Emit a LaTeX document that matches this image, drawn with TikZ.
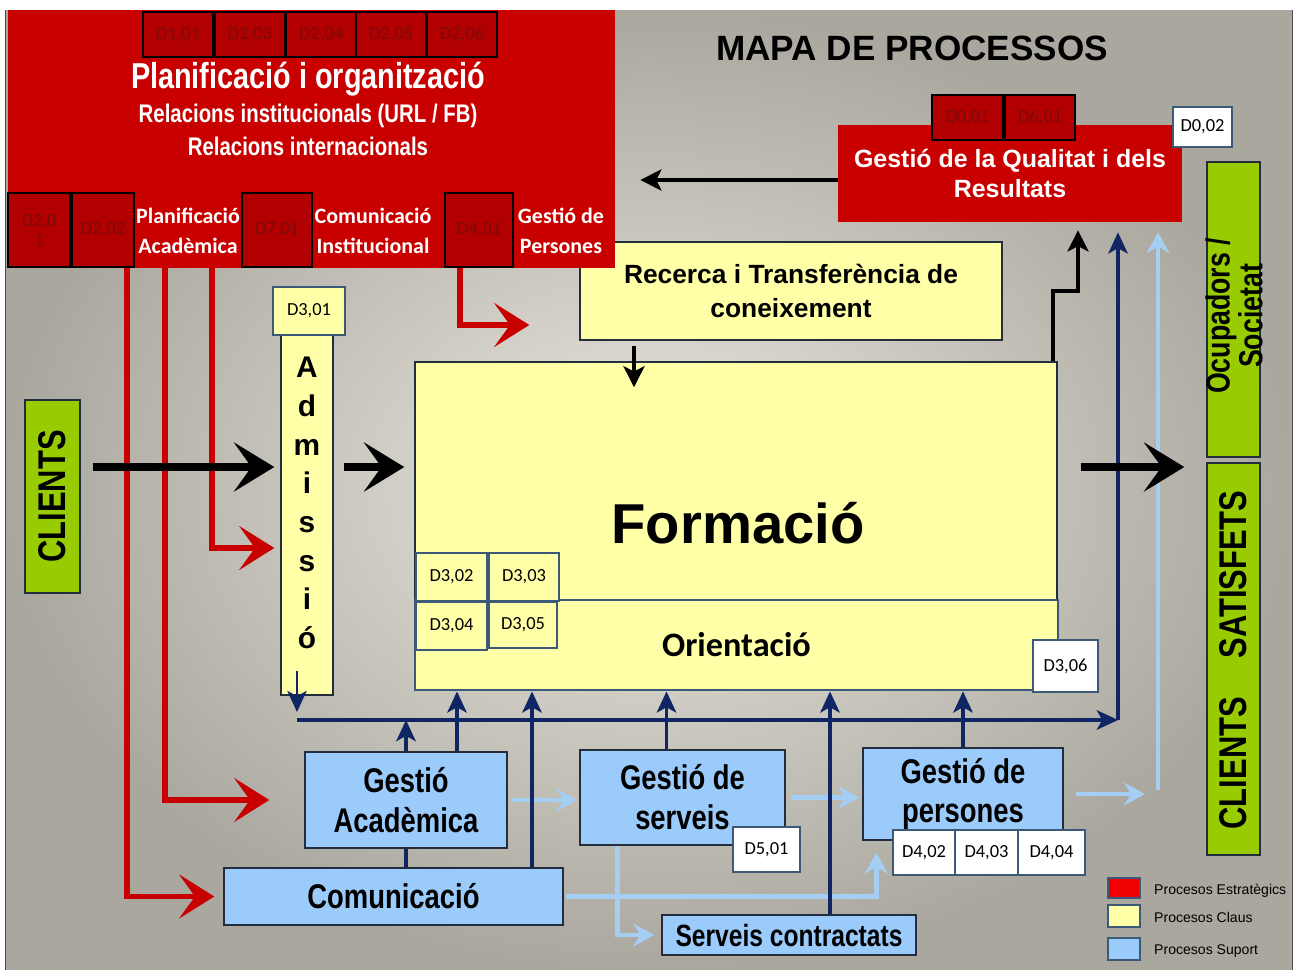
\documentclass[tikz,border=0pt]{standalone}
\usepackage{fontspec}
\setmainfont{Liberation Sans}
\newfontfamily\nrw[FakeStretch=0.8]{Liberation Sans}
\newfontfamily\carl{Carlito}
\usetikzlibrary{arrows.meta,calc}

\definecolor{procred}{RGB}{200,0,0}
\definecolor{coded}{RGB}{178,0,0}
\definecolor{codetxt}{RGB}{125,10,10}
\definecolor{procyel}{RGB}{255,255,168}
\definecolor{procblue}{RGB}{155,203,250}
\definecolor{procgreen}{RGB}{153,204,0}
\definecolor{legred}{RGB}{240,0,0}
\definecolor{navy}{RGB}{16,38,100}
\definecolor{skyline}{RGB}{165,206,245}
\definecolor{codeline}{RGB}{60,90,120}
\definecolor{boxline}{RGB}{35,45,60}
\definecolor{bglight}{RGB}{234,232,224}
\definecolor{bgdark}{RGB}{170,167,158}

\tikzset{
    bw/.style={minimum width=#1*0.02cm},
    bh/.style={minimum height=#1*0.02cm},
    redbox/.style={fill=procred, inner sep=0pt},
    dred/.style={draw=black, line width=1.6pt, fill=coded, text=codetxt,
        inner sep=0pt, align=center, font=\carl\fontsize{10.5}{11}\selectfont},
    redlab/.style={text=white, align=center, font=\carl\bfseries\fontsize{12.5}{17}\selectfont},
    yelbox/.style={draw=boxline, line width=0.8pt, fill=procyel, inner sep=0pt},
    bluebox/.style={draw=boxline, line width=0.8pt, fill=procblue, inner sep=0pt,
        align=center, font=\nrw\bfseries\fontsize{19.5}{22.7}\selectfont},
    dcode/.style={draw=codeline, line width=1.6pt, fill=procyel, inner sep=0pt,
        font=\carl\fontsize{10.5}{11}\selectfont},
    dwhite/.style={dcode, fill=white},
    greenbox/.style={draw=boxline, line width=0.8pt, fill=procgreen, inner sep=0pt},
    greentxt/.style={rotate=90, font=\nrw\bfseries\fontsize{22}{24}\selectfont},
    legbox/.style={draw=codeline, line width=1.4pt, inner sep=0pt},
    legtxt/.style={anchor=west, font=\fontsize{8}{10}\selectfont},
    redarrow/.style={draw=procred, line width=3.4pt,
        -{Stealth[length=20pt, width=25pt, inset=9pt]}},
    bigarrow/.style={draw=black, line width=4.5pt,
        -{Stealth[length=23pt, width=28pt, inset=10pt]}},
    blkarrow/.style={draw=black, line width=2.2pt,
        -{Stealth[length=12pt, width=12pt, inset=3pt]}},
    navyline/.style={draw=navy, line width=2.2pt},
    navyarrow/.style={navyline, -{Stealth[length=12pt, width=11pt, inset=3pt]}},
    skyarrow/.style={draw=skyline, line width=2.6pt,
        -{Stealth[length=12pt, width=13pt, inset=4pt]}},
}

\begin{document}
\begin{tikzpicture}
    [
        x=0.02cm, y=-0.02cm,
    ]
    \useasboundingbox (0,0) rectangle (1298,970);

    % background
    \fill [white] (0,0) rectangle (1298,10);
    \shade [inner color=bglight, outer color=bgdark] (5,10) rectangle (1292,970);
    \draw [gray!60!black, line width=0.4pt] (5,10) -- (5,970) (1292,10) -- (1292,970);

    % key processes
    \node [yelbox, bw=422, bh=98, align=center,
        font=\bfseries\fontsize{15}{19}\selectfont] (recerca) at (791,291)
        {Recerca i Transferència de\\coneixement};
    \node [yelbox, bw=642, bh=238] (form) at (736,481) {};
    \node [font=\bfseries\fontsize{32}{36}\selectfont] (formtxt) at (738,523) {Formació};
    \node [yelbox, draw=codeline, line width=1.6pt, bw=643, bh=90,
        font=\carl\bfseries\fontsize{19.5}{22}\selectfont] (orient) at (736.5,645) {Orientació};
    \node [dcode, bw=71, bh=48] (d302) at (451.5,577) {D3,02};
    \node [dcode, bw=70, bh=48] (d303) at (524,577) {D3,03};
    \node [dcode, bw=71, bh=48] (d304) at (451.5,626) {D3,04};
    \node [dcode, bw=68, bh=46] (d305) at (523,625) {D3,05};
    \node [dwhite, bw=65, bh=52] (d306) at (1065.5,666) {D3,06};

    \node [yelbox, bw=52, bh=360] (adm) at (307,515) {};
    \node [dcode, bw=72, bh=48] (d301) at (309,311) {D3,01};
    \node [align=center, font=\bfseries\fontsize{17}{22}\selectfont] (admtxt) at (307,503)
        {A\\d\\m\\i\\s\\s\\i\\ó};

    % strategic processes
    \node [redbox, bw=607, bh=258] (plan) at (311.5,139) {};
    \foreach \x/\lab [count=\i] in
    {178/{D1,01}, 250/{D2,03}, 321/{D2,04}, 391/{D2,05}, 462/{D2,06}}
    {
        \node [dred, bw=70, bh=45] (pd\i) at (\x,34.5) {\lab};
    }
    \node [text=white, font=\nrw\bfseries\fontsize{20.5}{22}\selectfont] (plantit) at (308,79) {Planificació i organització};
    \node [text=white, font=\nrw\bfseries\fontsize{14.5}{16}\selectfont] (relinst) at (308,116) {Relacions institucionals (URL / FB)};
    \node [text=white, font=\nrw\bfseries\fontsize{14.5}{16}\selectfont] (relint) at (308,146) {Relacions internacionals};

    \node [dred, bw=62, bh=74] (d201) at (39,230) {D2,0\\1};
    \node [dred, bw=62, bh=74] (d202) at (103,230) {D2,02};
    \node [dred, bw=70, bh=74] (d701) at (277,230) {D7,01};
    \node [dred, bw=68, bh=74] (d401) at (479,230) {D4,01};
    \node [redlab] (placad) at (188,231) {Planificació\\Acadèmica};
    \node [redlab] (cominst) at (373,231) {Comunicació\\Institucional};
    \node [redlab] (gespers) at (561,231) {Gestió de\\Persones};

    \node [font=\bfseries\fontsize{20}{22}\selectfont] (mapa) at (912,48) {MAPA DE PROCESSOS};

    \node [redbox, bw=344, bh=97, text=white, align=center,
        font=\bfseries\fontsize{14.2}{17}\selectfont] (qual) at (1010,173.5)
        {Gestió de la Qualitat i dels\\Resultats};
    \node [dred, bw=71, bh=45] (d001) at (967.5,117.5) {D0,01};
    \node [dred, bw=70, bh=45] (d601) at (1040,117.5) {D6,01};
    \node [dwhite, bw=59, bh=40] (d002) at (1202.5,127) {D0,02};

    % clients
    \node [greenbox, bw=55, bh=193] (clients) at (52.5,496.5) {};
    \node [greentxt] (clitxt) at (clients) {CLIENTS};
    \node [greenbox, bw=53, bh=295] (ocup) at (1233.5,309.5) {};
    \node [greentxt, align=center, font=\nrw\bfseries\fontsize{19}{16}\selectfont] (ocuptxt) at (1234,316) {Ocupadors /\\Societat};
    \node [greenbox, bw=53, bh=392] (sat) at (1233.5,659) {};
    \node [greentxt] (sattxt) at (1233.5,660) {CLIENTS\hspace{22pt}SATISFETS};

    % support processes
    \node [bluebox, bw=202, bh=96] (ga) at (406,800) {Gestió\\Acadèmica};
    \node [bluebox, bw=339, bh=57] (comm) at (393.5,896.5) {Comunicació};
    \node [bluebox, bw=205, bh=95] (serv) at (682.5,797.5) {Gestió de\\serveis};
    \node [dwhite, bw=67, bh=45] (d501) at (766.5,849.5) {D5,01};
    \node [bluebox, bw=200, bh=92] (pers) at (963,794) {Gestió de\\persones};
    \node [dwhite, bw=62, bh=45] (d402) at (924,852.5) {D4,02};
    \node [dwhite, bw=63, bh=45] (d403) at (986.5,852.5) {D4,03};
    \node [dwhite, bw=67, bh=45] (d404) at (1051.5,852.5) {D4,04};
    \node [bluebox, bw=254, bh=40, font=\nrw\bfseries\fontsize{17.5}{20}\selectfont] (contr) at (789,935) {Serveis contractats};

    % red flows
    \draw [redarrow, shorten >=0.18cm] ($(plan.south west)+(119,0)$) |- (comm.west);
    \draw [redarrow, shorten >=0.7cm] ($(plan.south west)+(157,0)$) |- (ga.west);
    \draw [redarrow, shorten >=0.12cm] ($(plan.south west)+(204,0)$) |- ($(adm.west)+(0,33)$);
    \draw [redarrow, shorten >=1cm] ($(plan.south west)+(452,0)$) |- ($(recerca.west)+(0,34)$);

    % support flows
    \coordinate (busL) at (297,720);
    \coordinate (busR) at (1118,720);
    \coordinate (sky) at (1158,790);
    \coordinate (ga2) at ($(ga.north)+(51,0)$);
    \coordinate (comm2) at ($(comm.north)+(138.5,0)$);
    \coordinate (serv2) at ($(serv.north)+(-16,0)$);
    \coordinate (contr2) at ($(contr.north)+(41,0)$);

    \draw [skyarrow, shorten <=0.06cm, shorten >=0.04cm] (ga.east) -- (ga.east -| serv.west);
    \draw [skyarrow, shorten <=0.1cm, shorten >=0.06cm] (serv.east) -- (serv.east -| pers.west);
    \draw [skyarrow, shorten <=0.24cm, shorten >=0.26cm] (pers.east) -- (pers.east -| sky);
    \draw [skyarrow, shorten >=0.2cm] (sky) -- (sky |- qual.south);
    \draw [skyarrow, shorten <=0.04cm, shorten >=0.24cm] (comm.east) -| ($(pers.south west)+(14,0)$);
    \draw [skyarrow, shorten >=0.14cm] ($(serv.south)+(-65,0)$) |- (contr.west);

    \draw [navyarrow] (busL) -- (busR);
    \draw [navyarrow, shorten >=0.2cm] (busR) -- (busR |- qual.south);
    \draw [navyarrow, line width=1.5pt, shorten >=0.16cm] ($(adm.south)+(-10,-25)$) -- (busL);
    \draw [navyarrow] (ga.north) -- (ga.north |- busL);
    \draw [navyline] (ga.south) -- (ga.south |- comm.north);
    \foreach \s in {ga2, comm2, serv2, contr2, pers.north} {
        \draw [navyarrow] (\s) -- (\s |- orient.south);
    }

    % main flow
    \coordinate (flow) at (0,467);
    \draw [blkarrow] ($(recerca.south)+(-157,5)$) -- ($(form.north)+(-102,26)$);
    \draw [blkarrow] ($(form.north east)+(-5,0)$) -- ++(0,-70) -| ($(qual.south)+(68,8)$);
    \draw [blkarrow] (qual.west |- 0,180) -- ($(plan.east |- 0,180)+(25,0)$);
    \draw [bigarrow, shorten <=0.24cm, shorten >=0.12cm] (clients.east |- flow) -- (adm.west |- flow);
    \draw [bigarrow, shorten <=0.2cm, shorten >=0.2cm] (adm.east |- flow) -- (form.west |- flow);
    \draw [bigarrow, shorten <=0.46cm, shorten >=0.44cm] (form.east |- flow) -- (sat.west |- flow);

    % legend
    \node [legbox, fill=legred, bw=32, bh=20] (legs) at (1124,888) {};
    \node [legtxt] (legstxt) at (1148,891) {Procesos Estratègics};
    \node [legbox, fill=procyel, bw=32, bh=22] (legc) at (1124,916) {};
    \node [legtxt] (legctxt) at (1148,917) {Procesos Claus};
    \node [legbox, fill=procblue, bw=32, bh=22] (legp) at (1124,949) {};
    \node [legtxt] (legptxt) at (1148,951) {Procesos Suport};
\end{tikzpicture}
\end{document}
